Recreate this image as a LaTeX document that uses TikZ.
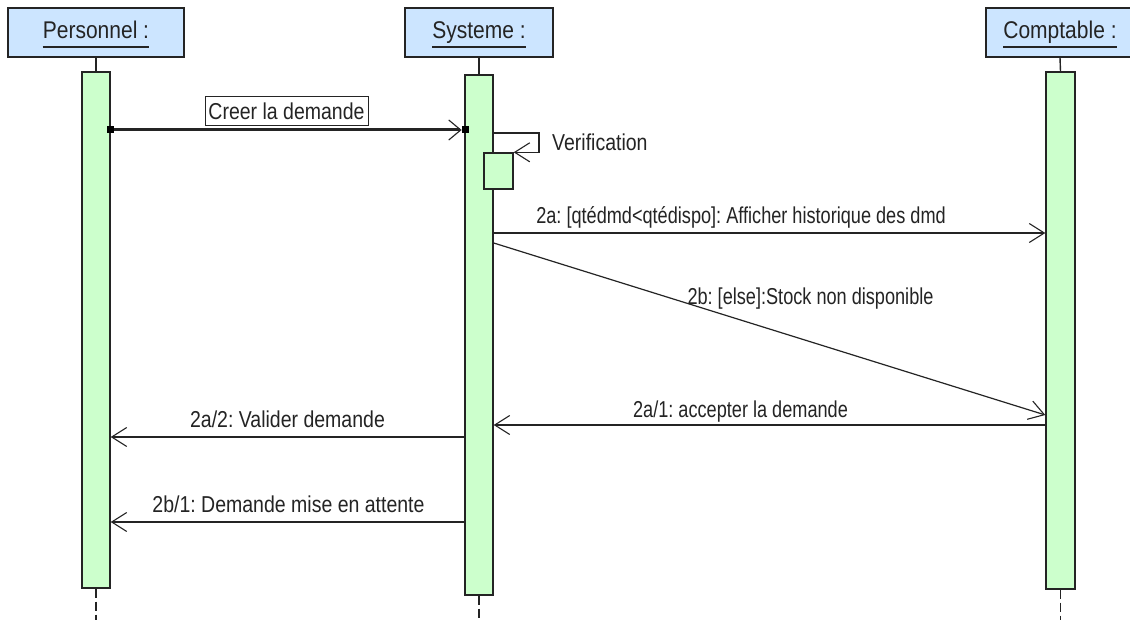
\documentclass[tikz,border=0pt]{standalone}
\usepackage{fontspec}
\setmainfont{Liberation Sans}
\usetikzlibrary{arrows.meta}
\definecolor{headfill}{RGB}{204,229,255}
\definecolor{actfill}{RGB}{204,255,204}
\definecolor{ink}{RGB}{36,36,36}
\frenchspacing

\begin{document}
\begin{tikzpicture}[x=1pt,y=-1pt,
  head/.style={draw=ink, line width=1.4pt, fill=headfill, minimum height=49pt, inner sep=0},
  act/.style={draw=ink, line width=1.4pt, fill=actfill, inner sep=0},
  lbl/.style={font=\fontsize{19.5}{22}\selectfont, text=ink, yscale=1.18, inner sep=0},
  narrow/.style={xscale=0.93},
  hlbl/.style={font=\fontsize{21}{24}\selectfont, text=ink, yscale=1.15, inner sep=0},
  tip/.style={-{Straight Barb[length=15pt,width=19pt,line width=1.1pt]}},
  msg/.style={draw=ink, line width=1.2pt, tip},
  life/.style={draw=ink, line width=1.4pt},
  tail/.style={draw=ink, line width=1.4pt, dash pattern=on 9pt off 4pt},
  endsq/.style={fill=black, minimum size=7pt, inner sep=0},
]
\useasboundingbox (0,0) rectangle (1130,620);
\clip (0,0) rectangle (1130,620);
\fill[white] (0,0) rectangle (1130,620);

% object heads
\node[head, minimum width=176pt] (hP) at (96,32.5) {};
\node[head, minimum width=148pt] (hS) at (479,32.5) {};
\node[head, minimum width=148pt] (hC) at (1060,32.5) {};
\node[hlbl, anchor=base] (tP) at (96,39) {Personnel :};
\node[hlbl, anchor=base] (tS) at (479,39) {Systeme :};
\node[hlbl, anchor=base] (tC) at (1060,39) {Comptable :};
\foreach \t in {tP,tS,tC}
  \draw[ink, line width=1.2pt] ([yshift=-8pt]\t.base west) -- ([yshift=-8pt]\t.base east);

% activation bars
\node[act, minimum width=28pt, minimum height=516pt] (aP) at (96,330) {};
\node[act, minimum width=28pt, minimum height=520pt] (aS) at (479,335) {};
\node[act, minimum width=29pt, minimum height=517pt] (aC) at (1060.5,330.5) {};
\node[act, minimum width=29pt, minimum height=36pt] (aV) at (498.5,171) {};

% lifelines
\draw[life] (hP.south) -- (aP.north);
\draw[life] (hS.south) -- (aS.north);
\draw[life] (hC.south) -- (aC.north);
\coordinate (bot) at (0,620);
\draw[tail] (aP.south) -- (aP.south |- bot);
\draw[tail] (aS.south) -- (aS.south |- bot);
\draw[tail] (aC.south) -- (aC.south |- bot);

% message rows
\coordinate (r1) at (0,130);
\coordinate (rv) at (0,133);
\coordinate (r2a) at (0,233);
\coordinate (r2b) at (0,243);
\coordinate (r2be) at (0,415);
\coordinate (r21) at (0,425);
\coordinate (r22) at (0,437);
\coordinate (rb1) at (0,522);

% Creer la demande
\node[endsq] (sqA) at (aP.east |- r1) {};
\node[endsq] (sqB) at ([xshift=1pt]aS.west |- r1) {};
\draw[draw=ink, line width=3pt, -{Straight Barb[length=12pt,width=20pt,line width=1.1pt]}] (sqA.east) -- (sqB.west);
\node[lbl, draw=ink, line width=1pt, minimum width=163pt, minimum height=25.4pt] (mCreer) at (286.5,111) {Creer la demande};

% Verification (self call)
\coordinate (vr) at (539,133);
\draw[msg] (aS.east |- rv) -- (vr) -- (vr |- aV.north) -- (aV.north east);
\node[lbl, anchor=base west] (mVer) at (552,151) {Verification};

% 2a
\draw[msg] (aS.east |- r2a) -- (aC.west |- r2a);
\node[lbl, narrow, anchor=base] (m2a) at (741,224) {2a: [qtédmd<qtédispo]: Afficher historique des dmd};

% 2b
\draw[msg] (aS.east |- r2b) -- (aC.west |- r2be);
\node[lbl, narrow, anchor=base] (m2b) at (810.5,305) {2b: [else]:Stock non disponible};

% 2a/1
\draw[msg] (aC.west |- r21) -- (aS.east |- r21);
\node[lbl, narrow, anchor=base] (m21) at (740.5,417) {2a/1: accepter la demande};

% 2a/2
\draw[msg] (aS.west |- r22) -- (aP.east |- r22);
\node[lbl, anchor=base] (m22) at (287.5,427) {2a/2: Valider demande};

% 2b/1
\draw[msg] (aS.west |- rb1) -- (aP.east |- rb1);
\node[lbl, anchor=base] (mb1) at (288.5,512) {2b/1: Demande mise en attente};
\end{tikzpicture}
\end{document}
